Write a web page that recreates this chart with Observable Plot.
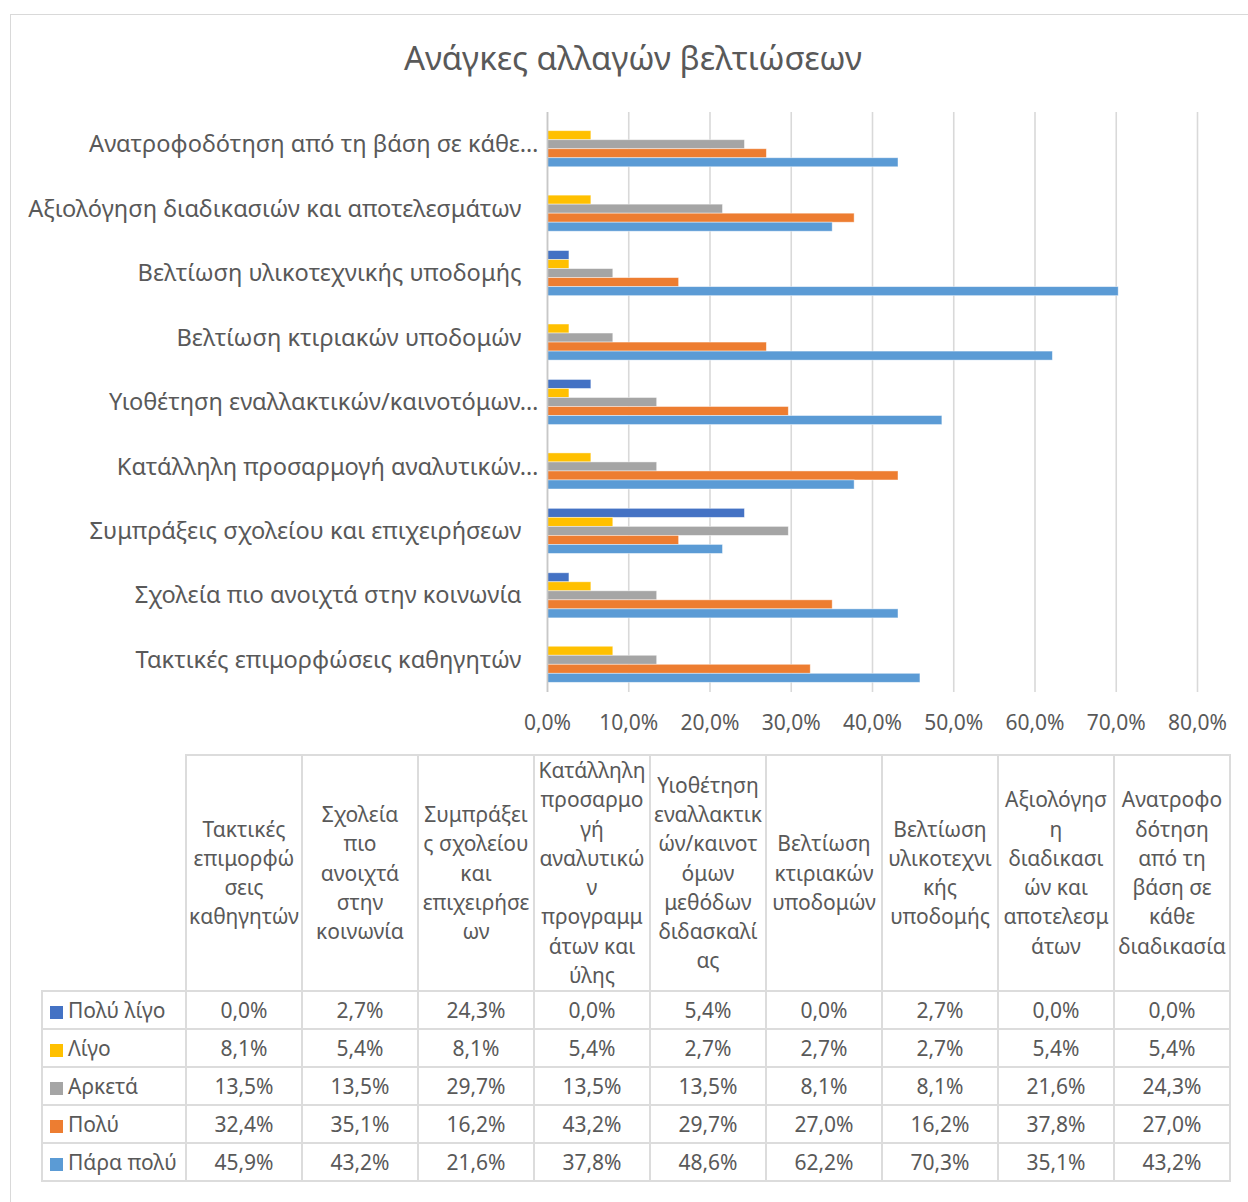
<!DOCTYPE html>
<html>
<head>
<meta charset="utf-8">
<script src="https://cdn.jsdelivr.net/npm/d3@7"></script>
<script src="https://cdn.jsdelivr.net/npm/@observablehq/plot@0.6"></script>
<style>
  body { margin: 0; background: #fff; font-family: "Noto Sans", sans-serif; color: #595959; }
  #wrap { position: relative; width: 1248px; height: 1202px; overflow: hidden; }
  #frame { position: absolute; left: 10px; top: 14px; width: 1300px; height: 1300px; border: 1.5px solid #d9d9d9; box-sizing: border-box; }
  #title { position: absolute; left: 10px; width: 1246px; top: 35px; text-align: center; font-size: 33px; color: #595959; }
  #chart { position: absolute; left: 0; top: 100px; }
  #table { position: absolute; left: 41px; top: 754px; border-collapse: collapse; table-layout: fixed; font-size: 21px; color: #595959; }
  #table td, #table th { border: 2px solid #dcdcdc; text-align: center; vertical-align: middle; padding: 0; font-weight: normal; }
  #table th { line-height: 29.3px; white-space: nowrap; }
  #table td { height: 36px; white-space: nowrap; }
  #table th.corner { border-top: none; border-left: none; }
  #table td.lab { text-align: left; padding-left: 7px; }
  .key { display: inline-block; width: 13px; height: 13px; margin-right: 5px; vertical-align: -1px; }
</style>
</head>
<body>
<div id="wrap">
  <div id="frame"></div>
  <div id="title">Ανάγκες αλλαγών βελτιώσεων</div>
  <div id="chart"></div>
  <table id="table"></table>
</div>
<script>
// Categories (table order, left → right; chart draws them bottom → top)
const categories = [
  "Τακτικές επιμορφώσεις καθηγητών",
  "Σχολεία πιο ανοιχτά στην κοινωνία",
  "Συμπράξεις σχολείου και επιχειρήσεων",
  "Κατάλληλη προσαρμογή αναλυτικών προγραμμάτων και ύλης",
  "Υιοθέτηση εναλλακτικών/καινοτόμων μεθόδων διδασκαλίας",
  "Βελτίωση κτιριακών υποδομών",
  "Βελτίωση υλικοτεχνικής υποδομής",
  "Αξιολόγηση διαδικασιών και αποτελεσμάτων",
  "Ανατροφοδότηση από τη βάση σε κάθε διαδικασία"
];
// Axis labels as shown (truncated) on the chart
const axisLabels = [
  "Τακτικές επιμορφώσεις καθηγητών",
  "Σχολεία πιο ανοιχτά στην κοινωνία",
  "Συμπράξεις σχολείου και επιχειρήσεων",
  "Κατάλληλη προσαρμογή αναλυτικών…",
  "Υιοθέτηση εναλλακτικών/καινοτόμων…",
  "Βελτίωση κτιριακών υποδομών",
  "Βελτίωση υλικοτεχνικής υποδομής",
  "Αξιολόγηση διαδικασιών και αποτελεσμάτων",
  "Ανατροφοδότηση από τη βάση σε κάθε…"
];
// Header text as wrapped in the data table
const headerLines = [
  ["Τακτικές", "επιμορφώ", "σεις", "καθηγητών"],
  ["Σχολεία", "πιο", "ανοιχτά", "στην", "κοινωνία"],
  ["Συμπράξει", "ς σχολείου", "και", "επιχειρήσε", "ων"],
  ["Κατάλληλη", "προσαρμο", "γή", "αναλυτικώ", "ν", "προγραμμ", "άτων και", "ύλης"],
  ["Υιοθέτηση", "εναλλακτικ", "ών/καινοτ", "όμων", "μεθόδων", "διδασκαλί", "ας"],
  ["Βελτίωση", "κτιριακών", "υποδομών"],
  ["Βελτίωση", "υλικοτεχνι", "κής", "υποδομής"],
  ["Αξιολόγησ", "η", "διαδικασι", "ών και", "αποτελεσμ", "άτων"],
  ["Ανατροφο", "δότηση", "από τη", "βάση σε", "κάθε", "διαδικασία"]
];

// Series (percent)
const seriesNames = ["Πολύ λίγο", "Λίγο", "Αρκετά", "Πολύ", "Πάρα πολύ"];
const seriesColors = ["#4472C4", "#FFC000", "#A5A5A5", "#ED7D31", "#5B9BD5"];
const polyLigo = [0.0, 2.7, 24.3, 0.0, 5.4, 0.0, 2.7, 0.0, 0.0];
const ligo     = [8.1, 5.4, 8.1, 5.4, 2.7, 2.7, 2.7, 5.4, 5.4];
const arketa   = [13.5, 13.5, 29.7, 13.5, 13.5, 8.1, 8.1, 21.6, 24.3];
const poly     = [32.4, 35.1, 16.2, 43.2, 29.7, 27.0, 16.2, 37.8, 27.0];
const paraPoly = [45.9, 43.2, 21.6, 37.8, 48.6, 62.2, 70.3, 35.1, 43.2];
const seriesValues = [polyLigo, ligo, arketa, poly, paraPoly];

const xTicks = [0, 10, 20, 30, 40, 50, 60, 70, 80];

const fmt = v => v.toFixed(1).replace(".", ",") + "%";

const rows = categories.map((c, i) => {
  const r = {category: c};
  seriesNames.forEach((s, k) => r[s] = seriesValues[k][i]);
  return r;
});
const labelOf = new Map(categories.map((c, i) => [c, axisLabels[i]]));

const bandwidth = 45.1;
const slice = bandwidth / seriesNames.length;

const barMarks = seriesNames.map((s, k) => Plot.barX(rows, {
  x: s,
  y: "category",
  fill: seriesColors[k],
  stroke: "#ffffff",
  strokeOpacity: 0.55,
  strokeWidth: 0.8,
  insetTop: k * slice,
  insetBottom: (seriesNames.length - 1 - k) * slice
}));

const chart = Plot.plot({
  width: 1248,
  height: 642,
  marginLeft: 547,
  marginRight: 51,
  marginTop: 12,
  marginBottom: 50,
  style: {fontFamily: "Noto Sans", fontSize: "21px", color: "#595959", background: "transparent"},
  x: {domain: [0, 80], ticks: xTicks, tickFormat: fmt, tickSize: 0, tickPadding: 23, label: null},
  y: {domain: categories.slice().reverse(), paddingInner: 0.3, paddingOuter: 0.15, round: false,
      tickSize: 0, tickPadding: 26, label: null, tickFormat: d => labelOf.get(d)},
  marks: [
    Plot.ruleX(xTicks, {stroke: "#d9d9d9", strokeWidth: 1.6}),
    ...barMarks,
    Plot.ruleX([0], {stroke: "#c8c8c8", strokeWidth: 1.6})
  ]
});
document.getElementById("chart").appendChild(chart);

// Category labels: larger font, and the truncation mark overhangs the right edge like the original
d3.select(chart).selectAll("text")
  .filter(function() { return axisLabels.includes(this.textContent); })
  .style("font-size", "23.6px")
  .filter(function() { return this.textContent.endsWith("…"); })
  .each(function() {
    const t = this.getAttribute("transform") || "";
    this.setAttribute("transform", (t + " translate(17,0)").trim());
  });

// Data table
const table = d3.select("#table");
const cg = table.append("colgroup");
cg.append("col").style("width", "144px");
categories.forEach(() => cg.append("col").style("width", "116px"));
const hr = table.append("tr").style("height", "235px");
hr.append("th").attr("class", "corner");
headerLines.forEach(lines => {
  hr.append("th").html(lines.join("<br>"));
});
seriesNames.forEach((s, k) => {
  const tr = table.append("tr");
  const lab = tr.append("td").attr("class", "lab");
  lab.append("span").attr("class", "key").style("background", seriesColors[k]);
  lab.append("span").text(s);
  seriesValues[k].forEach(v => tr.append("td").text(fmt(v)));
});
</script>
</body>
</html>
